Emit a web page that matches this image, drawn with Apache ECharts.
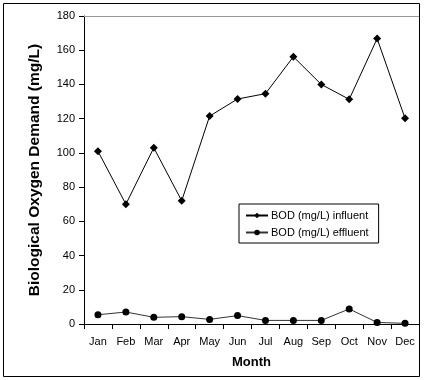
<!DOCTYPE html>
<html><head><meta charset="utf-8">
<script src="https://cdn.jsdelivr.net/npm/echarts@6/dist/echarts.min.js"></script>
<style>html,body{margin:0;padding:0;background:#fff}#c{width:425px;height:380px}</style>
</head><body><div id="c"></div>
<script>
var months = ['Jan','Feb','Mar','Apr','May','Jun','Jul','Aug','Sep','Oct','Nov','Dec'];
var influent = [101, 70, 103, 72, 121.5, 131.5, 134.6, 156.2, 140, 131.3, 166.8, 120.2];
var effluent = [5.4, 7.0, 3.9, 4.3, 2.7, 4.9, 2.1, 2.1, 2.1, 8.8, 0.9, 0.4];
var yTicks = [0, 20, 40, 60, 80, 100, 120, 140, 160, 180];

var font = 'Liberation Sans, Arial, sans-serif';
var chart = echarts.init(document.getElementById('c'), null, {renderer: 'canvas'});
chart.setOption({
  animation: false,
  backgroundColor: '#fff',
  textStyle: {fontFamily: font},
  graphic: [{
    type: 'rect', shape: {x: 3.5, y: 3.5, width: 416, height: 373},
    style: {fill: 'none', stroke: '#000', lineWidth: 1}, z: 100
  }],
  grid: {left: 84, right: 6, top: 16, bottom: 56, containLabel: false},
  legend: {
    show: true,
    left: 239, top: 204,
    orient: 'vertical', itemGap: 6, itemWidth: 22, itemHeight: 7,
    padding: [6, 10, 5, 6],
    borderColor: '#000', borderWidth: 1, backgroundColor: '#fff',
    textStyle: {fontFamily: font, fontSize: 11, color: '#000', padding: [0, 0, 0, -2]},
    data: ['BOD (mg/L) influent', 'BOD (mg/L) effluent']
  },
  xAxis: [{
    type: 'category', data: months, boundaryGap: true,
    axisLine: {lineStyle: {color: '#000', width: 1}},
    axisTick: {show: true, length: 5, lineStyle: {color: '#000'}},
    axisLabel: {color: '#000', fontSize: 11, fontFamily: font, margin: 12},
    name: 'Month', nameLocation: 'middle', nameGap: 32,
    nameTextStyle: {fontWeight: 'bold', fontSize: 13, color: '#000', fontFamily: font}
  }, {
    type: 'category', data: months, position: 'top',
    axisLine: {lineStyle: {color: '#999', width: 1}},
    axisTick: {show: false}, axisLabel: {show: false}
  }],
  yAxis: {
    type: 'value', min: 0, max: 180, interval: 20,
    axisLine: {show: true, lineStyle: {color: '#000', width: 1}},
    axisTick: {show: true, length: 5, lineStyle: {color: '#000'}},
    splitLine: {show: false},
    axisLabel: {color: '#000', fontSize: 11, fontFamily: font, margin: 9,
      formatter: function (v) { return yTicks.indexOf(v) >= 0 ? String(v) : ''; }},
    name: 'Biological Oxygen Demand (mg/L)', nameLocation: 'middle', nameGap: 41,
    nameTextStyle: {fontWeight: 'bold', fontSize: 15.5, color: '#000', fontFamily: font}
  },
  series: [{
    name: 'BOD (mg/L) influent', type: 'line', data: influent,
    symbol: 'diamond', symbolSize: 8,
    lineStyle: {color: '#000', width: 1},
    itemStyle: {color: '#000'}
  }, {
    name: 'BOD (mg/L) effluent', type: 'line', data: effluent,
    symbol: 'circle', symbolSize: 7,
    lineStyle: {color: '#333', width: 1},
    itemStyle: {color: '#000'}
  }]
});
</script></body></html>
